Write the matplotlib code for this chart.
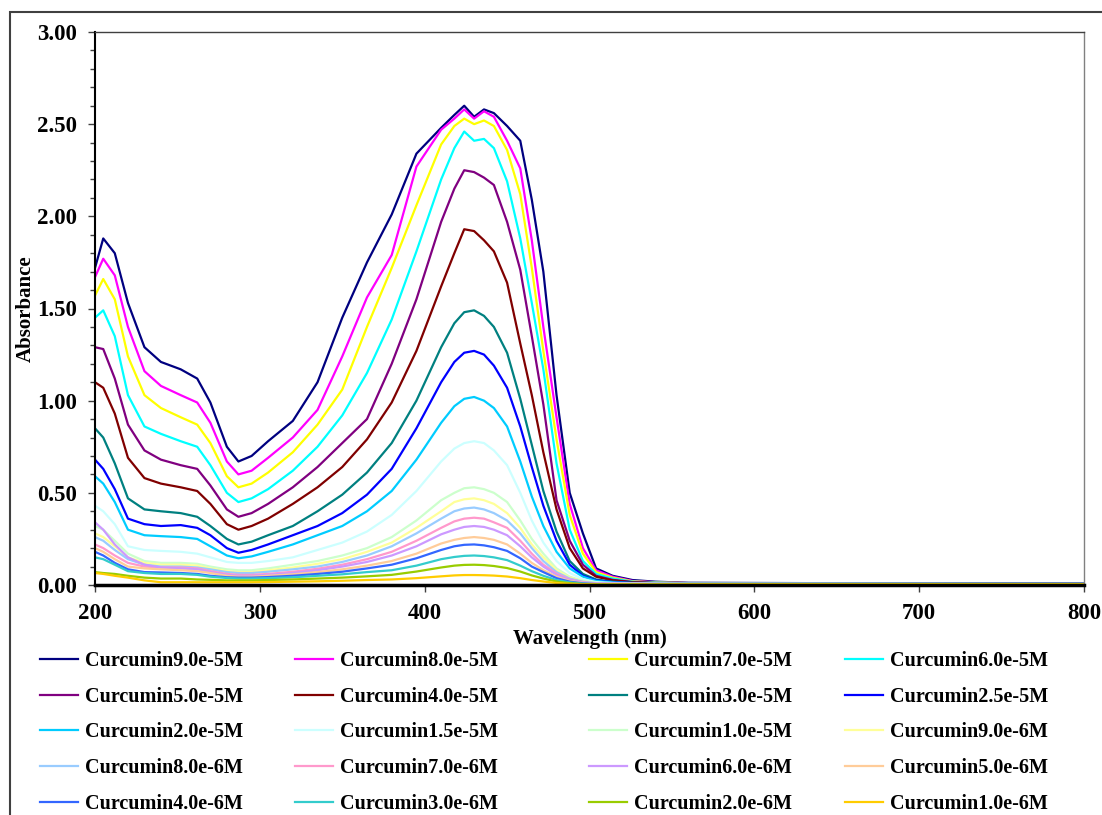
import matplotlib
matplotlib.use("Agg")
import matplotlib.pyplot as plt
from matplotlib.patches import Rectangle
from matplotlib.ticker import MultipleLocator, FormatStrFormatter

plt.rcParams['font.family'] = ['Liberation Serif', 'DejaVu Serif']
plt.rcParams['font.weight'] = 'bold'

# Datos (longitud de onda en nm, absorbancia)
wavelength = [200, 205, 212, 220, 230, 240, 252, 262, 270, 280, 287, 295, 305, 320, 335,
              350, 365, 380, 395, 410, 418, 424, 430, 436, 442, 450, 458, 465, 472, 480,
              488, 496, 504, 514, 526, 540, 560, 800]

c9e5 = [1.72, 1.88, 1.80, 1.53, 1.29, 1.21, 1.17, 1.12, 0.99, 0.75, 0.67, 0.70, 0.78, 0.89, 1.10,
        1.45, 1.75, 2.01, 2.34, 2.48, 2.55, 2.60, 2.54, 2.58, 2.56, 2.49, 2.41, 2.09, 1.70, 1.03,
        0.50, 0.28, 0.09, 0.05, 0.027, 0.018, 0.012, 0.006]
c8e5 = [1.67, 1.77, 1.68, 1.40, 1.16, 1.08, 1.03, 0.99, 0.88, 0.67, 0.60, 0.62, 0.69, 0.80, 0.95,
        1.24, 1.56, 1.79, 2.27, 2.47, 2.53, 2.58, 2.53, 2.57, 2.54, 2.41, 2.26, 1.87, 1.40, 0.91,
        0.44, 0.20, 0.08, 0.045, 0.022, 0.015, 0.010, 0.006]
c7e5 = [1.57, 1.66, 1.55, 1.24, 1.03, 0.96, 0.91, 0.87, 0.77, 0.59, 0.53, 0.55, 0.61, 0.72, 0.87,
        1.06, 1.40, 1.72, 2.06, 2.39, 2.49, 2.53, 2.50, 2.52, 2.49, 2.36, 2.12, 1.72, 1.27, 0.79,
        0.38, 0.17, 0.07, 0.04, 0.02, 0.014, 0.010, 0.006]
c6e5 = [1.45, 1.49, 1.35, 1.03, 0.86, 0.82, 0.78, 0.75, 0.65, 0.50, 0.45, 0.47, 0.52, 0.62, 0.75,
        0.92, 1.15, 1.44, 1.81, 2.20, 2.37, 2.46, 2.41, 2.42, 2.37, 2.19, 1.88, 1.53, 1.17, 0.66,
        0.30, 0.13, 0.06, 0.035, 0.018, 0.013, 0.009, 0.006]
c5e5 = [1.29, 1.28, 1.12, 0.87, 0.73, 0.68, 0.65, 0.63, 0.54, 0.41, 0.37, 0.39, 0.44, 0.53, 0.64,
        0.77, 0.90, 1.20, 1.55, 1.97, 2.15, 2.25, 2.24, 2.21, 2.17, 1.97, 1.71, 1.35, 0.98, 0.46,
        0.24, 0.11, 0.05, 0.028, 0.016, 0.011, 0.008, 0.006]
c4e5 = [1.10, 1.07, 0.93, 0.69, 0.58, 0.55, 0.53, 0.51, 0.44, 0.33, 0.30, 0.32, 0.36, 0.44, 0.53,
        0.64, 0.79, 0.99, 1.27, 1.62, 1.80, 1.93, 1.92, 1.87, 1.81, 1.64, 1.31, 1.03, 0.72, 0.41,
        0.20, 0.09, 0.045, 0.025, 0.015, 0.010, 0.008, 0.006]
c3e5 = [0.85, 0.80, 0.66, 0.47, 0.41, 0.40, 0.39, 0.37, 0.32, 0.25, 0.22, 0.235, 0.27, 0.32, 0.40,
        0.49, 0.61, 0.77, 1.00, 1.29, 1.42, 1.48, 1.49, 1.46, 1.40, 1.26, 1.01, 0.76, 0.51, 0.29,
        0.13, 0.06, 0.03, 0.018, 0.012, 0.009, 0.007, 0.006]
c25e5 = [0.68, 0.63, 0.52, 0.36, 0.33, 0.32, 0.325, 0.31, 0.27, 0.20, 0.175, 0.19, 0.22, 0.27, 0.32,
         0.39, 0.49, 0.63, 0.85, 1.10, 1.21, 1.26, 1.27, 1.25, 1.19, 1.07, 0.86, 0.64, 0.43, 0.24,
         0.11, 0.05, 0.025, 0.016, 0.011, 0.008, 0.007, 0.006]
c2e5 = [0.59, 0.55, 0.45, 0.30, 0.27, 0.265, 0.26, 0.25, 0.21, 0.16, 0.145, 0.155, 0.18, 0.22, 0.27,
        0.32, 0.40, 0.51, 0.68, 0.88, 0.97, 1.01, 1.02, 1.00, 0.96, 0.86, 0.67, 0.48, 0.32, 0.18,
        0.09, 0.045, 0.022, 0.014, 0.010, 0.008, 0.007, 0.006]
c15e5 = [0.43, 0.40, 0.33, 0.21, 0.19, 0.185, 0.18, 0.17, 0.15, 0.125, 0.12, 0.12, 0.13, 0.15, 0.19,
         0.23, 0.29, 0.38, 0.51, 0.67, 0.74, 0.77, 0.78, 0.77, 0.73, 0.65, 0.50, 0.35, 0.23, 0.13,
         0.065, 0.032, 0.016, 0.011, 0.008, 0.007, 0.006, 0.005]
c1e5 = [0.32, 0.30, 0.24, 0.17, 0.13, 0.12, 0.12, 0.115, 0.10, 0.085, 0.08, 0.08, 0.09, 0.11, 0.13,
        0.16, 0.20, 0.26, 0.35, 0.46, 0.50, 0.525, 0.53, 0.52, 0.50, 0.45, 0.35, 0.25, 0.17, 0.09,
        0.045, 0.022, 0.012, 0.009, 0.007, 0.006, 0.006, 0.005]
c9e6 = [0.28, 0.26, 0.21, 0.15, 0.12, 0.11, 0.11, 0.105, 0.09, 0.075, 0.07, 0.07, 0.08, 0.095, 0.115,
        0.14, 0.18, 0.23, 0.31, 0.40, 0.45, 0.465, 0.47, 0.46, 0.44, 0.39, 0.31, 0.22, 0.15, 0.08,
        0.04, 0.02, 0.01, 0.008, 0.007, 0.006, 0.006, 0.005]
c8e6 = [0.26, 0.24, 0.19, 0.14, 0.11, 0.10, 0.10, 0.095, 0.085, 0.07, 0.065, 0.065, 0.072, 0.085, 0.10,
        0.125, 0.16, 0.21, 0.28, 0.36, 0.40, 0.415, 0.42, 0.41, 0.39, 0.35, 0.28, 0.20, 0.13, 0.07,
        0.035, 0.018, 0.01, 0.008, 0.007, 0.006, 0.006, 0.005]
c7e6 = [0.22, 0.20, 0.16, 0.12, 0.10, 0.095, 0.095, 0.09, 0.075, 0.06, 0.055, 0.055, 0.06, 0.072, 0.088,
        0.11, 0.14, 0.18, 0.24, 0.31, 0.345, 0.36, 0.365, 0.36, 0.34, 0.31, 0.24, 0.17, 0.11, 0.062,
        0.03, 0.015, 0.008, 0.007, 0.006, 0.006, 0.005, 0.005]
c6e6 = [0.34, 0.30, 0.22, 0.15, 0.11, 0.095, 0.09, 0.085, 0.07, 0.055, 0.05, 0.05, 0.055, 0.065, 0.08,
        0.10, 0.125, 0.16, 0.21, 0.275, 0.30, 0.315, 0.32, 0.315, 0.30, 0.27, 0.21, 0.15, 0.10, 0.055,
        0.027, 0.013, 0.007, 0.006, 0.006, 0.005, 0.005, 0.005]
c5e6 = [0.20, 0.18, 0.14, 0.10, 0.09, 0.085, 0.08, 0.075, 0.065, 0.05, 0.045, 0.045, 0.05, 0.058, 0.07,
        0.085, 0.105, 0.13, 0.17, 0.225, 0.245, 0.255, 0.26, 0.255, 0.245, 0.22, 0.17, 0.12, 0.08, 0.045,
        0.022, 0.011, 0.006, 0.005, 0.005, 0.005, 0.005, 0.005]
c4e6 = [0.18, 0.16, 0.12, 0.085, 0.07, 0.068, 0.065, 0.06, 0.05, 0.042, 0.04, 0.04, 0.043, 0.05, 0.06,
        0.072, 0.09, 0.11, 0.145, 0.19, 0.21, 0.218, 0.22, 0.215, 0.205, 0.185, 0.145, 0.10, 0.07, 0.037,
        0.018, 0.009, 0.005, 0.005, 0.005, 0.005, 0.005, 0.005]
c3e6 = [0.15, 0.14, 0.11, 0.075, 0.065, 0.06, 0.06, 0.055, 0.045, 0.038, 0.035, 0.035, 0.037, 0.042, 0.05,
        0.058, 0.07, 0.08, 0.105, 0.14, 0.152, 0.158, 0.16, 0.157, 0.15, 0.135, 0.105, 0.075, 0.05, 0.027,
        0.014, 0.007, 0.004, 0.004, 0.004, 0.004, 0.004, 0.004]
c2e6 = [0.07, 0.065, 0.06, 0.05, 0.04, 0.035, 0.035, 0.03, 0.028, 0.025, 0.025, 0.025, 0.027, 0.03, 0.035,
        0.04, 0.047, 0.055, 0.073, 0.095, 0.105, 0.109, 0.11, 0.108, 0.103, 0.092, 0.073, 0.052, 0.035, 0.019,
        0.01, 0.005, 0.003, 0.003, 0.003, 0.003, 0.003, 0.003]
c1e6 = [0.065, 0.06, 0.05, 0.04, 0.025, 0.015, 0.015, 0.015, 0.015, 0.015, 0.015, 0.015, 0.016, 0.018, 0.02,
        0.023, 0.027, 0.03, 0.037, 0.047, 0.052, 0.054, 0.054, 0.053, 0.051, 0.046, 0.037, 0.027, 0.019, 0.011,
        0.006, 0.004, 0.003, 0.003, 0.003, 0.003, 0.004, 0.004]

series = [c9e5, c8e5, c7e5, c6e5, c5e5, c4e5, c3e5, c25e5, c2e5, c15e5,
          c1e5, c9e6, c8e6, c7e6, c6e6, c5e6, c4e6, c3e6, c2e6, c1e6]
labels = ["Curcumin9.0e-5M", "Curcumin8.0e-5M", "Curcumin7.0e-5M", "Curcumin6.0e-5M",
          "Curcumin5.0e-5M", "Curcumin4.0e-5M", "Curcumin3.0e-5M", "Curcumin2.5e-5M",
          "Curcumin2.0e-5M", "Curcumin1.5e-5M", "Curcumin1.0e-5M", "Curcumin9.0e-6M",
          "Curcumin8.0e-6M", "Curcumin7.0e-6M", "Curcumin6.0e-6M", "Curcumin5.0e-6M",
          "Curcumin4.0e-6M", "Curcumin3.0e-6M", "Curcumin2.0e-6M", "Curcumin1.0e-6M"]
colors = ["#000080", "#FF00FF", "#FFFF00", "#00FFFF", "#800080", "#800000", "#008080", "#0000FF",
          "#00CCFF", "#CCFFFF", "#CCFFCC", "#FFFF99", "#99CCFF", "#FF99CC", "#CC99FF", "#FFCC99",
          "#3366FF", "#33CCCC", "#99CC00", "#FFCC00"]

W, H = 1102, 815
fig = plt.figure(figsize=(W / 100, H / 100), dpi=100)
ax = fig.add_axes([95 / W, 1 - 585 / H, (1084 - 95) / W, (585 - 32) / H])

lines = []
for y, lab, col in zip(series, labels, colors):
    ln, = ax.plot(wavelength, y, color=col, linewidth=1.6, label=lab)
    lines.append(ln)

ax.set_xlim(200, 800)
ax.set_ylim(0, 3.0)
ax.xaxis.set_major_locator(MultipleLocator(100))
ax.yaxis.set_major_locator(MultipleLocator(0.5))
ax.yaxis.set_minor_locator(MultipleLocator(0.1))
ax.yaxis.set_major_formatter(FormatStrFormatter('%.2f'))
ax.tick_params(axis='both', which='major', direction='out', length=5, width=1,
               labelsize=16.5, color='#404040')
ax.tick_params(axis='y', which='major', pad=8)
ax.tick_params(axis='x', which='major', pad=8)
ax.tick_params(axis='y', which='minor', direction='out', length=3.5, width=1, color='#404040')
for lab in ax.get_xticklabels() + ax.get_yticklabels():
    lab.set_fontweight('bold')

ax.spines['left'].set_linewidth(1.5)
ax.spines['bottom'].set_linewidth(2.5)
ax.spines['top'].set_color('#404040')
ax.spines['right'].set_color('#808080')
ax.spines['top'].set_linewidth(1)
ax.spines['right'].set_linewidth(1)

ax.set_xlabel("Wavelength (nm)", fontsize=15, fontweight='bold')
ax.set_ylabel("Absorbance", fontsize=15, fontweight='bold')
ax.xaxis.set_label_coords(0.5, -(629 - 585) / 553)
ax.yaxis.set_label_coords(-(95 - 36) / 989, 0.5)

# marco exterior del gráfico
fig.patches.append(Rectangle((10 / W, -0.1), 1.2, 1.1 - 12 / H, transform=fig.transFigure,
                             fill=False, linewidth=1.5, edgecolor='#404040'))

# leyenda en 4 columnas (orden por filas)
col_x = [40, 295, 589, 845]
for c in range(4):
    hs = lines[c::4]
    fig.legend(hs, [h.get_label() for h in hs], loc='upper left',
               bbox_to_anchor=(col_x[c] / W, 1 - 651 / H), frameon=False,
               prop={'size': 14.5, 'weight': 'bold'}, handlelength=1.9,
               handletextpad=0.35, labelspacing=0.78, borderpad=0, borderaxespad=0)

fig.savefig("out.png", dpi=100)
